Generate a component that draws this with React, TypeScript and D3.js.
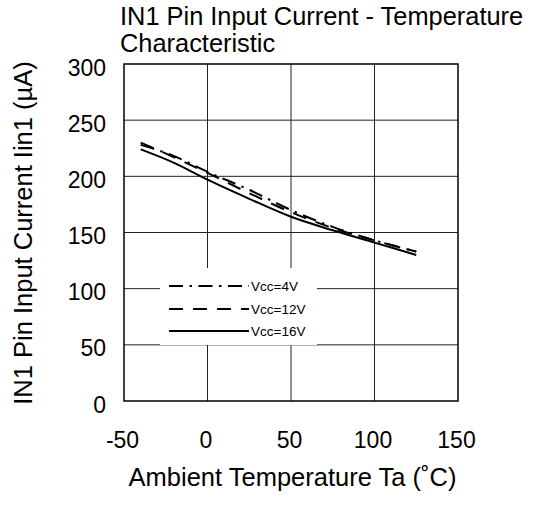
import React from "react";
import * as d3 from "d3";

const temps = [-40, -20, 0, 25, 50, 75, 100, 125];
const vcc4 = [228, 218, 204, 188, 170, 155, 143, 133];
const vcc12 = [230, 217, 203, 185, 168, 154, 143, 133];
const vcc16 = [224, 212, 197, 180, 164, 152, 141, 130];
const seriesNames = ["Vcc=4V", "Vcc=12V", "Vcc=16V"];
const xTicks = [-50, 0, 50, 100, 150];
const yTicks = [0, 50, 100, 150, 200, 250, 300];

const W = 534;
const H = 506;
const left = 124;
const right = 458;
const top = 64;
const bottom = 401;

export default function App() {
  const x = d3.scaleLinear().domain([-50, 150]).range([left, right]);
  const y = d3.scaleLinear().domain([0, 300]).range([bottom, top]);
  const line = d3
    .line<[number, number]>()
    .x((d) => x(d[0]))
    .y((d) => y(d[1]))
    .curve(d3.curveMonotoneX);
  const series = [vcc4, vcc12, vcc16];
  const dashes = ["14 6.5 2.5 6.5", "14 10", "none"];
  const font = "'Liberation Sans', Arial, sans-serif";
  const legendY = [286, 309, 331];

  return (
    <svg
      width={W}
      height={H}
      style={{ position: "absolute", left: 0, top: 0, background: "#fff" }}
      fontFamily={font}
    >
      <rect x={0} y={0} width={W} height={H} fill="#fff" />
      {/* grid */}
      {xTicks.slice(1, -1).map((t) => (
        <line key={"gx" + t} x1={x(t)} x2={x(t)} y1={top} y2={bottom} stroke="#222" strokeWidth={1} />
      ))}
      {yTicks.slice(1, -1).map((t) => (
        <line key={"gy" + t} x1={left} x2={right} y1={y(t)} y2={y(t)} stroke="#222" strokeWidth={1} />
      ))}
      {/* legend box */}
      <rect x={160} y={268} width={157} height={77} fill="#fff" />
      {/* frame */}
      <rect x={left} y={top} width={right - left} height={bottom - top} fill="none" stroke="#000" strokeWidth={1.5} />
      {/* series */}
      {series.map((s, i) => (
        <path
          key={"s" + i}
          d={line(temps.map((t, j) => [t, s[j]] as [number, number])) || ""}
          fill="none"
          stroke="#000"
          strokeWidth={2}
          strokeDasharray={dashes[i]}
        />
      ))}
      {/* legend */}
      {seriesNames.map((n, i) => (
        <g key={"l" + i}>
          <line x1={169} x2={249} y1={legendY[i]} y2={legendY[i]} stroke="#000" strokeWidth={2} strokeDasharray={dashes[i]} />
          <text x={251} y={legendY[i] + 5} fontSize={13.5} fill="#000">
            {n}
          </text>
        </g>
      ))}
      {/* y tick labels */}
      {yTicks.map((t) => (
        <text key={"yt" + t} x={106} y={y(t) + 11.5} fontSize={23} textAnchor="end" fill="#000">
          {t}
        </text>
      ))}
      {xTicks.map((t) => (
        <text key={"xt" + t} x={x(t) - 1.5} y={448} fontSize={23} textAnchor="middle" fill="#000">
          {t}
        </text>
      ))}
      {/* titles */}
      <text x={120} y={25} fontSize={25.4} fill="#000">
        IN1 Pin Input Current - Temperature
      </text>
      <text x={120} y={52} fontSize={25.4} fill="#000">
        Characteristic
      </text>
      <text x={292.5} y={486} fontSize={25.5} textAnchor="middle" fill="#000">
        Ambient Temperature Ta (˚C)
      </text>
      <text
        transform={`translate(31.5, 233) rotate(-90)`}
        fontSize={25.5}
        textAnchor="middle"
        fill="#000"
      >
        IN1 Pin Input Current Iin1 (µA)
      </text>
    </svg>
  );
}
